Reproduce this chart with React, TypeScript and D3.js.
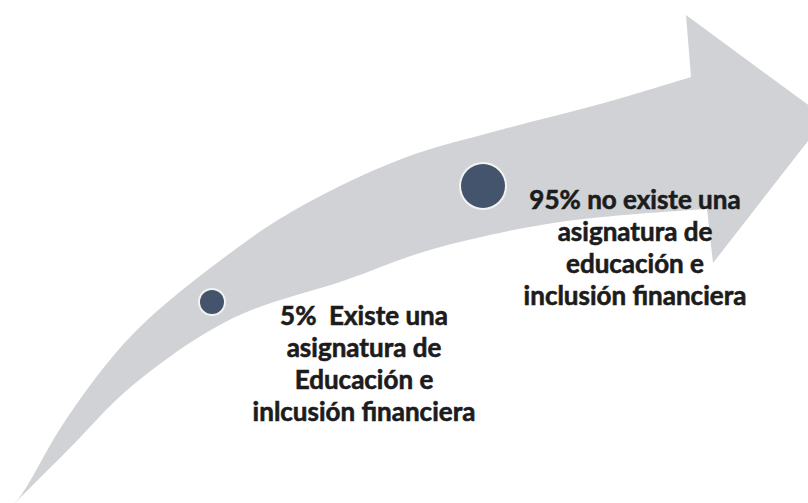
import React from "react";
import * as d3 from "d3";

// survey result: share of schools with / without a financial-education subject
const percents = [5, 95];
const labels: string[][] = [
  ["5%  Existe una", "asignatura de", "Educación e", "inlcusión financiera"],
  ["95% no existe una", "asignatura de", "educación e", "inclusión financiera"],
];

const W = 808;
const H = 503;

// outline of the curved arrow (layout, not data)
const upperEdge: [number, number][] = [
  [12, 506], [22, 494], [67, 418], [133, 334], [233, 251],
  [300, 207], [404, 158], [504, 129], [604, 103], [691, 77],
];
const lowerEdge: [number, number][] = [
  [12, 506], [67, 451], [133, 385], [233, 318], [343, 281],
  [433, 249], [560, 222], [707, 209],
];
const head: [number, number][] = [[686, 15], [826, 118], [713, 263]];

const x = d3.scaleLinear().domain([5, 95]).range([212, 483]);
const y = d3.scaleLinear().domain([5, 95]).range([302, 186]);
const r = d3.scaleLinear().domain([5, 95]).range([12, 22]);

const edge = d3.line().curve(d3.curveCatmullRom.alpha(0.5));

const arrowPath = () => {
  const up = edge(upperEdge) as string;
  const low = (edge([...lowerEdge].reverse()) as string).replace(/^M/, "L");
  const h = head.map((p) => `L${p[0]},${p[1]}`).join("");
  return `${up}${h}${low}Z`;
};

export default function App() {
  return (
    <svg
      width={W}
      height={H}
      style={{ position: "absolute", left: 0, top: 0, background: "#fff" }}
    >
      <path d={arrowPath()} fill="#d0d2d6" />
      {percents.map((p, i) => (
        <g key={p}>
          <circle cx={x(p)} cy={y(p)} r={r(p) + 2} fill="#f3f3f3" />
          <circle cx={x(p)} cy={y(p)} r={r(p)} fill="#44546c" />
          <text
            x={x(p) + 152}
            y={y(p) + 23}
            textAnchor="middle"
            fontFamily="Lato, 'Open Sans', sans-serif"
            fontWeight={700}
            fontSize={26}
            fill="#1c1c1c"
            stroke="#1c1c1c"
            strokeWidth={0.6}
            style={{ whiteSpace: "pre" }}
          >
            {labels[i].map((line, j) => (
              <tspan key={j} x={x(p) + 152} dy={j === 0 ? 0 : 32}>
                {line}
              </tspan>
            ))}
          </text>
        </g>
      ))}
    </svg>
  );
}
